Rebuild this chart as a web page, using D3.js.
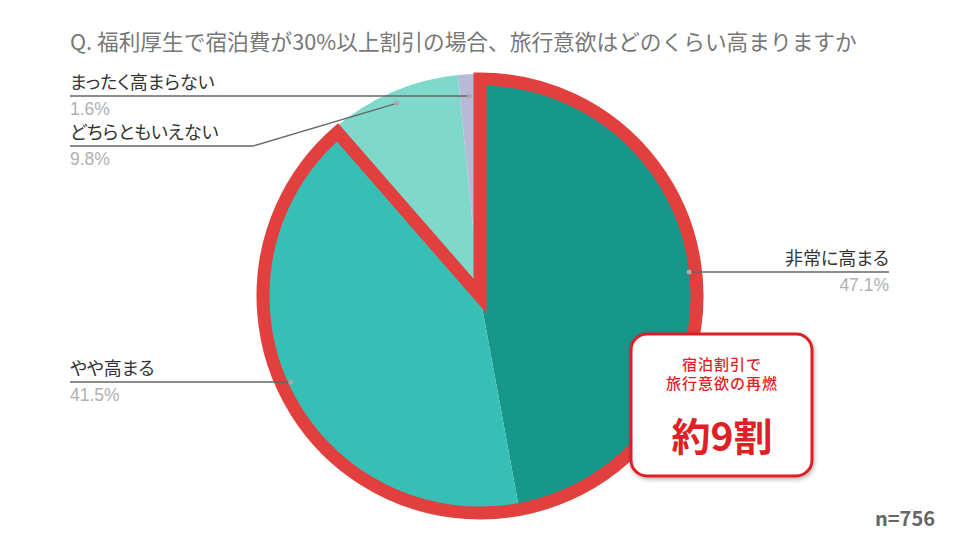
<!DOCTYPE html>
<html><head><meta charset="utf-8">
<script src="https://cdn.jsdelivr.net/npm/d3@7"></script>
<style>
html,body{margin:0;padding:0;background:#fff;}
svg{display:block;font-family:"Noto Sans CJK JP","Noto Sans",sans-serif;}
.palt{font-feature-settings:"palt" 1;}
</style></head>
<body>
<svg id="chart" width="960" height="540"></svg>
<script>
const title = "Q. 福利厚生で宿泊費が30%以上割引の場合、旅行意欲はどのくらい高まりますか";
const categories = ["非常に高まる", "やや高まる", "どちらともいえない", "まったく高まらない"];
const values = [47.1, 41.5, 9.8, 1.6];
const colors = ["#17968a", "#37beb5", "#7ed9ca", "#b6bad6"];
const highlightCount = 2;
const calloutLines = ["宿泊割引で", "旅行意欲の再燃"];
const calloutBig = "約9割";
const sampleNote = "n=756";

const svg = d3.select("#chart");
const cx = 480, cy = 296, R = 222;

svg.append("text").attr("x", 70).attr("y", 50)
  .attr("font-size", 21.7).attr("fill", "#777").text(title);

const pie = d3.pie().sort(null).value(d => d);
const arcs = pie(values);
const arc = d3.arc().innerRadius(0).outerRadius(R);
const g = svg.append("g").attr("transform", `translate(${cx},${cy})`);
g.selectAll("path.slice").data(arcs).join("path")
  .attr("class", "slice").attr("d", arc).attr("fill", (d, i) => colors[i]);

// red highlight outline around first slices
const hiEnd = arcs[highlightCount - 1].endAngle;
g.append("path")
  .attr("d", d3.arc().innerRadius(0).outerRadius(217)({startAngle: 0, endAngle: hiEnd}))
  .attr("fill", "none").attr("stroke", "#e2403f").attr("stroke-width", 13)
  .attr("stroke-linejoin", "miter");

// labels
const labelArc = d3.arc().innerRadius(210).outerRadius(210);
const layout = [
  {side: "right", y: 272},
  {side: "left", y: 382},
  {side: "left", y: 146},
  {side: "left", y: 96}
];
arcs.forEach((a, i) => {
  const [px, py] = labelArc.centroid(a);
  const dx = cx + px, dy = cy + py;
  const L = layout[i];
  let pts;
  if (L.side === "right") {
    pts = [[dx, L.y], [889, L.y]];
  } else if (Math.abs(dy - L.y) < 12) {
    pts = [[dx, L.y], [70, L.y]];
  } else {
    pts = [[dx, dy], [253, L.y], [70, L.y]];
  }
  svg.append("path").attr("d", d3.line()(pts)).attr("fill", "none")
    .attr("stroke", "#666").attr("stroke-width", 1.3);
  svg.append("circle").attr("cx", pts[0][0]).attr("cy", pts[0][1]).attr("r", 2.5).attr("fill", "#aaa");
  const tx = L.side === "right" ? 889 : 70;
  const anchor = L.side === "right" ? "end" : "start";
  svg.append("text").attr("class", "palt").attr("x", tx).attr("y", L.y - 7).attr("text-anchor", anchor)
    .attr("font-size", 18).attr("fill", "#333").text(categories[i]);
  svg.append("text").attr("x", tx).attr("y", L.y + 19).attr("text-anchor", anchor)
    .attr("font-family", "'Liberation Sans', Arial, sans-serif")
    .attr("font-size", 17.5).attr("fill", "#b0b0b0").text(values[i].toFixed(1) + "%");
});

// callout
const defs = svg.append("defs");
const f = defs.append("filter").attr("id", "sh").attr("x", "-20%").attr("y", "-20%").attr("width", "140%").attr("height", "140%");
f.append("feDropShadow").attr("dx", 1).attr("dy", 2).attr("stdDeviation", 2).attr("flood-color", "#000").attr("flood-opacity", 0.3);
svg.append("rect").attr("x", 631).attr("y", 334).attr("width", 181).attr("height", 142)
  .attr("rx", 16).attr("fill", "#fff").attr("stroke", "#e01f26").attr("stroke-width", 3)
  .attr("filter", "url(#sh)");
calloutLines.forEach((t, i) => {
  svg.append("text").attr("x", 722).attr("y", 370 + i * 19).attr("text-anchor", "middle")
    .attr("font-size", 15).attr("letter-spacing", 1).attr("font-weight", 500).attr("fill", "#e01f26").text(t);
});
svg.append("text").attr("x", 722).attr("y", 451).attr("text-anchor", "middle")
  .attr("font-size", 39).attr("font-weight", 700).attr("fill", "#e01f26").text(calloutBig);

svg.append("text").attr("x", 935).attr("y", 526).attr("text-anchor", "end")
  .attr("font-size", 20).attr("font-weight", 700).attr("fill", "#666").text(sampleNote);
</script>
</body></html>
